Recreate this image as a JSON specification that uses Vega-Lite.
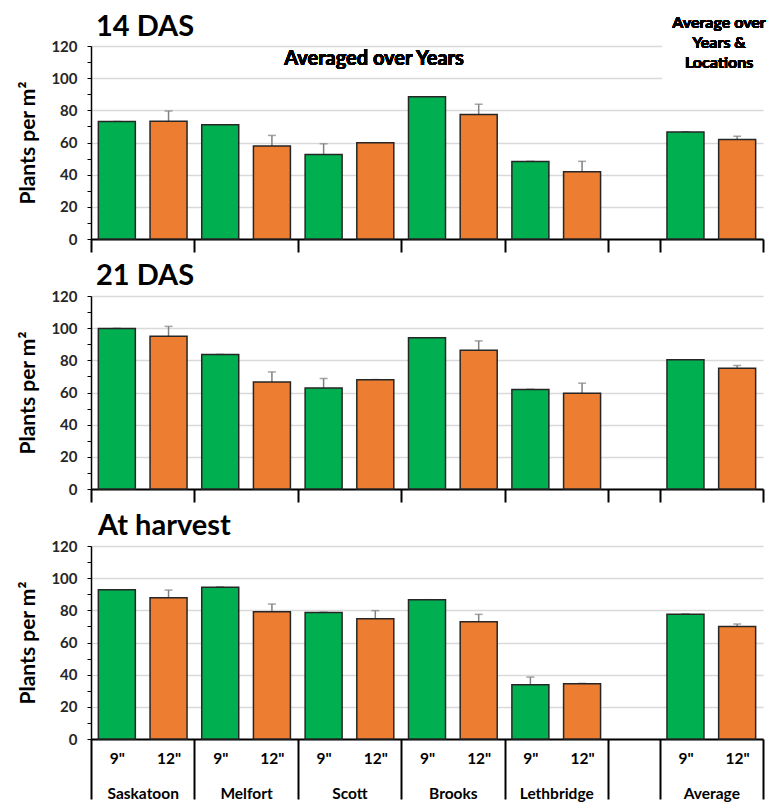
{
  "$schema": "https://vega.github.io/schema/vega-lite/v6.json",
  "padding": {"left": 17, "top": 13, "right": 2, "bottom": 4},
  "config": {
    "view": {"stroke": null},
    "font": "Lato",
    "axis": {"labelFont": "Lato", "titleFont": "Lato"}
  },
  "datasets": {
    "plants": [
      {"panel": "14 DAS", "location": "Saskatoon", "spacing": "9\"", "pos": 1, "plants": 73.0, "se": 0},
      {"panel": "14 DAS", "location": "Saskatoon", "spacing": "12\"", "pos": 3, "plants": 73.2, "se": 6.4},
      {"panel": "14 DAS", "location": "Melfort", "spacing": "9\"", "pos": 5, "plants": 71.0, "se": 0},
      {"panel": "14 DAS", "location": "Melfort", "spacing": "12\"", "pos": 7, "plants": 57.8, "se": 6.6},
      {"panel": "14 DAS", "location": "Scott", "spacing": "9\"", "pos": 9, "plants": 52.6, "se": 6.6},
      {"panel": "14 DAS", "location": "Scott", "spacing": "12\"", "pos": 11, "plants": 59.8, "se": 0},
      {"panel": "14 DAS", "location": "Brooks", "spacing": "9\"", "pos": 13, "plants": 88.4, "se": 0},
      {"panel": "14 DAS", "location": "Brooks", "spacing": "12\"", "pos": 15, "plants": 77.4, "se": 6.4},
      {"panel": "14 DAS", "location": "Lethbridge", "spacing": "9\"", "pos": 17, "plants": 48.2, "se": 0},
      {"panel": "14 DAS", "location": "Lethbridge", "spacing": "12\"", "pos": 19, "plants": 41.8, "se": 6.5},
      {"panel": "14 DAS", "location": "Average", "spacing": "9\"", "pos": 23, "plants": 66.6, "se": 0},
      {"panel": "14 DAS", "location": "Average", "spacing": "12\"", "pos": 25, "plants": 61.8, "se": 2.1},
      {"panel": "21 DAS", "location": "Saskatoon", "spacing": "9\"", "pos": 1, "plants": 99.8, "se": 0},
      {"panel": "21 DAS", "location": "Saskatoon", "spacing": "12\"", "pos": 3, "plants": 94.9, "se": 6.2},
      {"panel": "21 DAS", "location": "Melfort", "spacing": "9\"", "pos": 5, "plants": 83.6, "se": 0},
      {"panel": "21 DAS", "location": "Melfort", "spacing": "12\"", "pos": 7, "plants": 66.5, "se": 6.3},
      {"panel": "21 DAS", "location": "Scott", "spacing": "9\"", "pos": 9, "plants": 62.8, "se": 5.9},
      {"panel": "21 DAS", "location": "Scott", "spacing": "12\"", "pos": 11, "plants": 68.0, "se": 0},
      {"panel": "21 DAS", "location": "Brooks", "spacing": "9\"", "pos": 13, "plants": 94.0, "se": 0},
      {"panel": "21 DAS", "location": "Brooks", "spacing": "12\"", "pos": 15, "plants": 86.2, "se": 5.9},
      {"panel": "21 DAS", "location": "Lethbridge", "spacing": "9\"", "pos": 17, "plants": 61.9, "se": 0},
      {"panel": "21 DAS", "location": "Lethbridge", "spacing": "12\"", "pos": 19, "plants": 59.6, "se": 6.2},
      {"panel": "21 DAS", "location": "Average", "spacing": "9\"", "pos": 23, "plants": 80.3, "se": 0},
      {"panel": "21 DAS", "location": "Average", "spacing": "12\"", "pos": 25, "plants": 75.1, "se": 1.7},
      {"panel": "At harvest", "location": "Saskatoon", "spacing": "9\"", "pos": 1, "plants": 92.8, "se": 0},
      {"panel": "At harvest", "location": "Saskatoon", "spacing": "12\"", "pos": 3, "plants": 87.9, "se": 4.7},
      {"panel": "At harvest", "location": "Melfort", "spacing": "9\"", "pos": 5, "plants": 94.4, "se": 0},
      {"panel": "At harvest", "location": "Melfort", "spacing": "12\"", "pos": 7, "plants": 79.1, "se": 4.8},
      {"panel": "At harvest", "location": "Scott", "spacing": "9\"", "pos": 9, "plants": 78.7, "se": 0},
      {"panel": "At harvest", "location": "Scott", "spacing": "12\"", "pos": 11, "plants": 74.8, "se": 5.0},
      {"panel": "At harvest", "location": "Brooks", "spacing": "9\"", "pos": 13, "plants": 86.6, "se": 0},
      {"panel": "At harvest", "location": "Brooks", "spacing": "12\"", "pos": 15, "plants": 72.9, "se": 4.6},
      {"panel": "At harvest", "location": "Lethbridge", "spacing": "9\"", "pos": 17, "plants": 33.8, "se": 4.7},
      {"panel": "At harvest", "location": "Lethbridge", "spacing": "12\"", "pos": 19, "plants": 34.3, "se": 0.3},
      {"panel": "At harvest", "location": "Average", "spacing": "9\"", "pos": 23, "plants": 77.6, "se": 0},
      {"panel": "At harvest", "location": "Average", "spacing": "12\"", "pos": 25, "plants": 70.0, "se": 1.5}
    ]
  },
  "bounds": "flush",
  "spacing": 57,
  "vconcat": [
    {
      "data": {"name": "plants"},
      "transform": [{"filter": "datum.panel == '14 DAS'"}],
      "width": 672,
      "height": 193,
      "title": {"text": "14 DAS", "anchor": "start", "frame": "group", "fontSize": 29, "fontWeight": "bold", "color": "#000", "baseline": "alphabetic", "offset": -50, "dx": 5},
      "encoding": {
        "x": {"field": "pos", "type": "quantitative", "scale": {"domain": [0, 26], "nice": false, "zero": false, "padding": 0},
          "axis": {"values": [0, 4, 8, 12, 16, 20, 22, 26], "labels": false, "title": null, "grid": false, "tickSize": 13, "tickWidth": 2, "tickColor": "#000", "domainColor": "#000", "domainWidth": 2}},
        "y": {"field": "plants", "type": "quantitative", "scale": {"domain": [0, 120]},
          "axis": {"title": "Plants per m²", "values": [0, 10, 20, 30, 40, 50, 60, 70, 80, 90, 100, 110, 120],
            "labelExpr": "datum.value % 20 == 0 ? datum.label : ''",
            "gridOpacity": {"condition": {"test": "datum.value % 20 == 0", "value": 1}, "value": 0},
            "gridColor": "#d9d9d9", "gridWidth": 1.5, "tickSize": 4, "tickColor": "#000", "domainColor": "#000", "domainWidth": 1.5,
            "labelFontWeight": "bold", "labelFontSize": 15, "labelColor": "#262626", "labelPadding": 10,
            "titleFontSize": 21, "titleFontWeight": "bold", "titleColor": "#000", "titlePadding": 12}}
      },
      "layer": [
        {
          "mark": {"type": "errorbar", "ticks": true, "size": 8, "thickness": 1.5, "color": "#808080"},
          "encoding": {"yError": {"field": "se"}}
        },
        {
          "mark": {"type": "bar", "width": 37, "stroke": "#262626", "strokeWidth": 1.5},
          "encoding": {
            "color": {"field": "spacing", "type": "nominal", "legend": null,
              "scale": {"domain": ["9\"", "12\""], "range": ["#00b050", "#ed7d31"]}}
          }
        },
        {
          "mark": {"type": "rect", "fill": "#ffffff"},
          "encoding": {"x": {"datum": 22.1}, "x2": {"datum": 26.3}, "y": {"datum": 91}, "y2": {"datum": 122}}
        },
        {
          "mark": {"type": "text", "fontSize": 20, "fontWeight": "bold", "color": "#000"},
          "encoding": {"x": {"datum": 10.95}, "y": {"datum": 112}, "text": {"value": "Averaged over Years"}}
        },
        {
          "mark": {"type": "text", "fontSize": 16, "fontWeight": "bold", "color": "#000", "lineHeight": 20, "baseline": "middle"},
          "encoding": {"x": {"datum": 24.3}, "y": {"datum": 134.3}, "text": {"value": ["Average over", "Years &", "Locations"]}}
        }
      ]
    },
    {
      "data": {"name": "plants"},
      "transform": [{"filter": "datum.panel == '21 DAS'"}],
      "width": 672,
      "height": 193,
      "title": {"text": "21 DAS", "anchor": "start", "frame": "group", "fontSize": 29, "fontWeight": "bold", "color": "#000", "baseline": "alphabetic", "offset": -25, "dx": 5},
      "encoding": {
        "x": {"field": "pos", "type": "quantitative", "scale": {"domain": [0, 26], "nice": false, "zero": false, "padding": 0},
          "axis": {"values": [0, 4, 8, 12, 16, 20, 22, 26], "labels": false, "title": null, "grid": false, "tickSize": 13, "tickWidth": 2, "tickColor": "#000", "domainColor": "#000", "domainWidth": 2}},
        "y": {"field": "plants", "type": "quantitative", "scale": {"domain": [0, 120]},
          "axis": {"title": "Plants per m²", "values": [0, 10, 20, 30, 40, 50, 60, 70, 80, 90, 100, 110, 120],
            "labelExpr": "datum.value % 20 == 0 ? datum.label : ''",
            "gridOpacity": {"condition": {"test": "datum.value % 20 == 0", "value": 1}, "value": 0},
            "gridColor": "#d9d9d9", "gridWidth": 1.5, "tickSize": 4, "tickColor": "#000", "domainColor": "#000", "domainWidth": 1.5,
            "labelFontWeight": "bold", "labelFontSize": 15, "labelColor": "#262626", "labelPadding": 10,
            "titleFontSize": 21, "titleFontWeight": "bold", "titleColor": "#000", "titlePadding": 12}}
      },
      "layer": [
        {
          "mark": {"type": "errorbar", "ticks": true, "size": 8, "thickness": 1.5, "color": "#808080"},
          "encoding": {"yError": {"field": "se"}}
        },
        {
          "mark": {"type": "bar", "width": 37, "stroke": "#262626", "strokeWidth": 1.5},
          "encoding": {
            "color": {"field": "spacing", "type": "nominal", "legend": null,
              "scale": {"domain": ["9\"", "12\""], "range": ["#00b050", "#ed7d31"]}}
          }
        }
      ]
    },
    {
      "data": {"name": "plants"},
      "transform": [{"filter": "datum.panel == 'At harvest'"}],
      "width": 672,
      "height": 193,
      "title": {"text": "At harvest", "anchor": "start", "frame": "group", "fontSize": 29, "fontWeight": "bold", "color": "#000", "baseline": "alphabetic", "offset": -25, "dx": 7},
      "encoding": {
        "x": {"field": "pos", "type": "quantitative", "scale": {"domain": [0, 26], "nice": false, "zero": false, "padding": 0},
          "axis": {"orient": "bottom", "values": [1, 2, 3, 5, 6, 7, 9, 10, 11, 13, 14, 15, 17, 18, 19, 23, 24, 25],
            "labelExpr": "indexof([2, 6, 10, 14, 18, 24], datum.value) >= 0 ? ['', ['Saskatoon', 'Melfort', 'Scott', 'Brooks', 'Lethbridge', 'Average'][indexof([2, 6, 10, 14, 18, 24], datum.value)]] : (indexof([1, 5, 9, 13, 17, 23], datum.value) >= 0 ? '9\"' : '12\"')",
            "ticks": false, "grid": false, "title": null, "domainColor": "#000", "domainWidth": 2,
            "labelBaseline": "top", "labelPadding": 12, "labelLineHeight": 35, "labelOverlap": false, "labelFlush": false, "labelBound": false,
            "labelFontWeight": "bold", "labelFontSize": 15.5, "labelColor": "#000"}},
        "y": {"field": "plants", "type": "quantitative", "scale": {"domain": [0, 120]},
          "axis": {"title": "Plants per m²", "values": [0, 10, 20, 30, 40, 50, 60, 70, 80, 90, 100, 110, 120],
            "labelExpr": "datum.value % 20 == 0 ? datum.label : ''",
            "gridOpacity": {"condition": {"test": "datum.value % 20 == 0", "value": 1}, "value": 0},
            "gridColor": "#d9d9d9", "gridWidth": 1.5, "tickSize": 4, "tickColor": "#000", "domainColor": "#000", "domainWidth": 1.5,
            "labelFontWeight": "bold", "labelFontSize": 15, "labelColor": "#262626", "labelPadding": 10,
            "titleFontSize": 21, "titleFontWeight": "bold", "titleColor": "#000", "titlePadding": 12}}
      },
      "resolve": {"axis": {"x": "independent"}},
      "layer": [
        {
          "mark": {"type": "errorbar", "ticks": true, "size": 8, "thickness": 1.5, "color": "#808080"},
          "encoding": {
            "x": {"field": "pos", "type": "quantitative",
              "axis": {"orient": "bottom", "values": [0, 4, 8, 12, 16, 20, 22, 26], "labels": false, "title": null, "grid": false, "domain": false, "tickSize": 60, "tickWidth": 2, "tickColor": "#000"}},
            "yError": {"field": "se"}
          }
        },
        {
          "mark": {"type": "bar", "width": 37, "stroke": "#262626", "strokeWidth": 1.5},
          "encoding": {
            "color": {"field": "spacing", "type": "nominal", "legend": null,
              "scale": {"domain": ["9\"", "12\""], "range": ["#00b050", "#ed7d31"]}}
          }
        }
      ]
    }
  ]
}
